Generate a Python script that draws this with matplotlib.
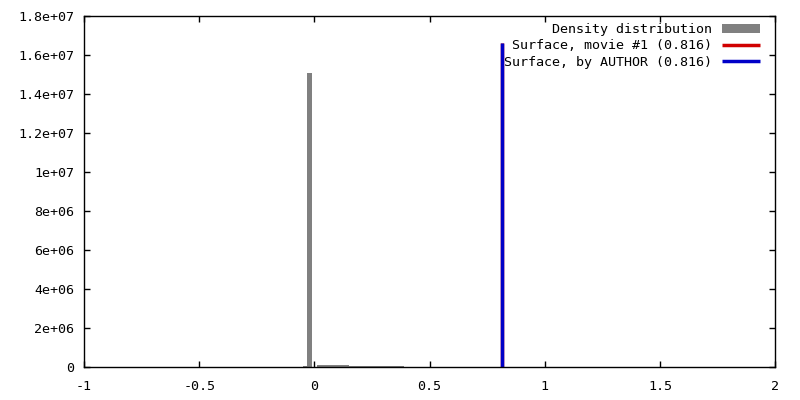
import matplotlib.pyplot as plt
from matplotlib.ticker import FuncFormatter, MultipleLocator

# Histogram of density values (bin centres and counts)
bin_centers = [-0.04, -0.02, 0.00, 0.02, 0.04, 0.06, 0.08, 0.10, 0.12, 0.14,
               0.16, 0.18, 0.20, 0.22, 0.24, 0.26, 0.28, 0.30, 0.32, 0.34, 0.36, 0.38]
bin_counts = [4e4, 1.51e7, 0, 9e4, 9e4, 9e4, 9e4, 9e4, 9e4, 9e4,
              4e4, 4e4, 4e4, 4e4, 4e4, 4e4, 4e4, 4e4, 4e4, 4e4, 4e4, 4e4]
bin_width = 0.02

# Surface thresholds
surface_movie = 0.816
surface_author = 0.816
surface_height = 1.66e7

labels = ['Density distribution',
          'Surface, movie #1 (0.816)',
          'Surface, by AUTHOR (0.816)']

plt.rcParams['font.family'] = ['DejaVu Sans Mono']
plt.rcParams['font.size'] = 9.6

fig = plt.figure(figsize=(8, 4), dpi=100)
ax = fig.add_axes([0.105, 0.0825, 0.864, 0.8775])

bars = ax.bar(bin_centers, bin_counts, width=bin_width, color='#808080',
              linewidth=0, label=labels[0])
l1 = ax.vlines(surface_movie, 0, surface_height, color='#d00000', lw=2.5, label=labels[1])
l2 = ax.vlines(surface_author, 0, surface_height, color='#0000c8', lw=2.5, label=labels[2])

ax.set_xlim(-1, 2)
ax.set_ylim(0, 1.8e7)
ax.xaxis.set_major_locator(MultipleLocator(0.5))
ax.yaxis.set_major_locator(MultipleLocator(2e6))
fmt = FuncFormatter(lambda v, p: '%g' % v)
ax.xaxis.set_major_formatter(fmt)
ax.yaxis.set_major_formatter(fmt)

ax.tick_params(direction='in', length=4, width=1, top=True, right=True,
               labelsize=9.6)
ax.tick_params(axis='x', pad=9)
ax.tick_params(axis='y', pad=7)
for s in ax.spines.values():
    s.set_linewidth(1)

leg = ax.legend([bars, l1, l2], labels, loc='upper right',
                bbox_to_anchor=(0.9825, 0.988),
                frameon=False, markerfirst=False, handlelength=2.9,
                handletextpad=0.75, labelspacing=0.25, borderaxespad=0,
                borderpad=0.2, fontsize=9.6)

fig.savefig('out.png', dpi=100)
